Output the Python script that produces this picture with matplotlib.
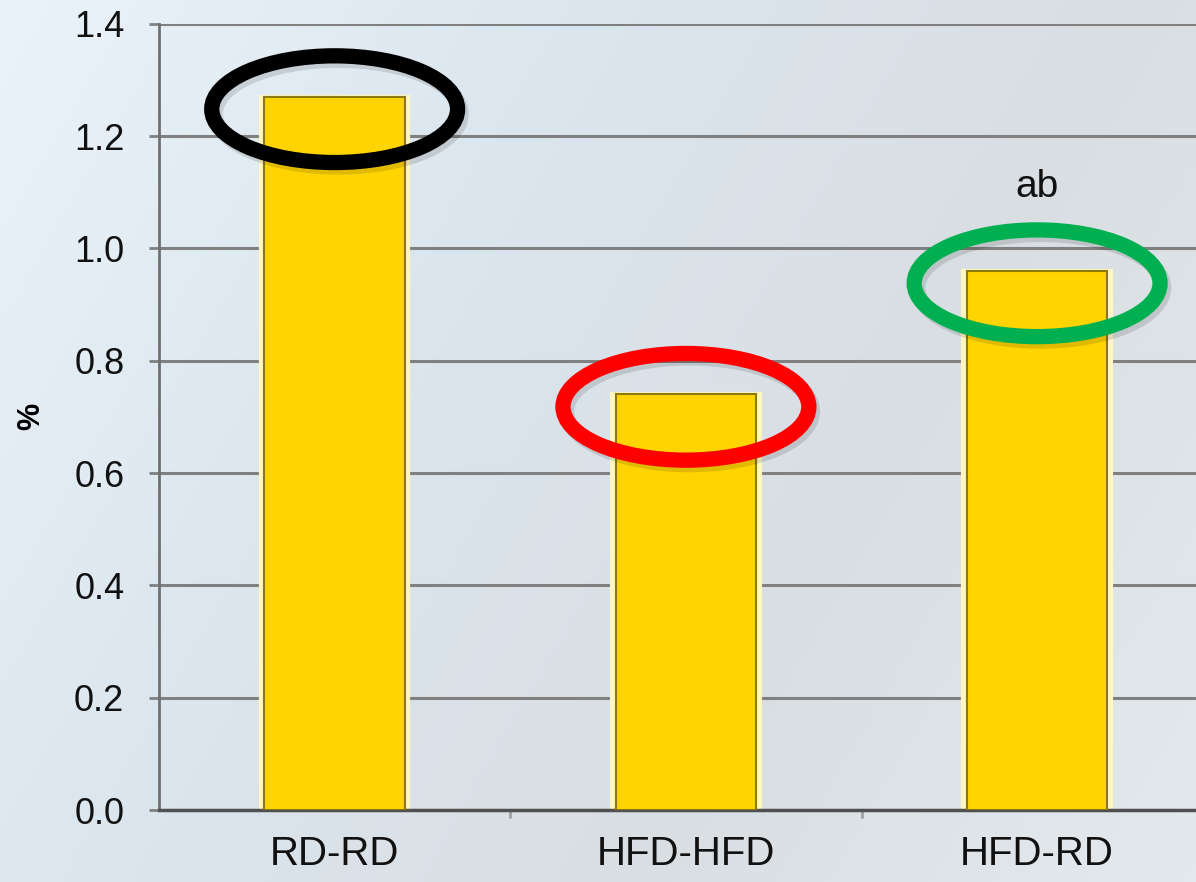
import numpy as np
import matplotlib.pyplot as plt
from matplotlib.patches import Ellipse
from matplotlib.colors import LinearSegmentedColormap

plt.rcParams['font.family'] = ['Liberation Sans', 'DejaVu Sans']

# データ
groups = ["RD-RD", "HFD-HFD", "HFD-RD"]
values = [1.27, 0.74, 0.96]
ring_colors = ["#000000", "#FF0000", "#00B050"]
labels_above = ["", "", "ab"]
yticks = [0.0, 0.2, 0.4, 0.6, 0.8, 1.0, 1.2, 1.4]

fig = plt.figure(figsize=(11.96, 8.82), dpi=100)

# 背景：ごく淡い青灰色のグラデーション
bg = fig.add_axes([0, 0, 1, 1], zorder=-10)
bg_cmap = LinearSegmentedColormap.from_list(
    "bg", ["#EAF3F9", "#DCE6EE", "#D9DEE3", "#E4E9EE"])
gx, gy = np.meshgrid(np.linspace(0, 1, 200), np.linspace(0, 1, 200))
shade = 0.7 * gx + 0.3 * gy
bg.imshow(shade, cmap=bg_cmap, vmin=0, vmax=1, aspect="auto",
          extent=[0, 1, 0, 1])
bg.axis("off")

ax = fig.add_axes([0.133, 0.0816, 0.881, 0.8914])
ax.patch.set_alpha(0)

x = np.arange(len(groups))

# 棒の外側の淡い光彩 + 本体
ax.bar(x, values, width=0.42, color="#FFF6C0", edgecolor="#FFF6C0",
       linewidth=3, zorder=2)
ax.bar(x, values, width=0.40, color="#FFD400", edgecolor="#8A7A10",
       linewidth=1.5, zorder=3)

# 棒の上端を囲む楕円
for xi, v, c in zip(x, values, ring_colors):
    shadow = Ellipse((xi + 0.01, v - 0.03), 0.70, 0.19, fill=False,
                     edgecolor="#000000", alpha=0.12, linewidth=11, zorder=4)
    ax.add_patch(shadow)
    ring = Ellipse((xi, v - 0.022), 0.70, 0.19, fill=False,
                   edgecolor=c, linewidth=11, zorder=5)
    ax.add_patch(ring)

for xi, v, t in zip(x, values, labels_above):
    if t:
        ax.text(xi, v + 0.15, t, ha="center", va="center",
                fontsize=28, color="#111111", zorder=6)

ax.set_xlim(-0.5, 2.5)
ax.set_ylim(0, 1.4)
ax.set_yticks(yticks)
ax.set_yticklabels([f"{t:.1f}" for t in yticks], fontsize=26, color="#111111")
ax.set_xticks(x)
ax.set_xticklabels(groups, fontsize=29, color="#111111")
ax.tick_params(axis="x", length=0, pad=18)
ax.tick_params(axis="y", length=7, width=2, color="#808080", pad=18)
ax.set_xticks([0.5, 1.5], minor=True)
ax.tick_params(axis="x", which="minor", length=6, width=2, color="#A0A0A0")

ax.yaxis.grid(True, color="#808080", linewidth=2.2, zorder=1)
ax.set_axisbelow(True)
for s in ["top", "right"]:
    ax.spines[s].set_visible(False)
ax.spines["left"].set_color("#707070")
ax.spines["left"].set_linewidth(2)
ax.spines["bottom"].set_color("#505050")
ax.spines["bottom"].set_linewidth(2.5)

ax.set_ylabel("%", fontsize=22, fontweight="bold", labelpad=20)

fig.savefig("out.png", dpi=100)
